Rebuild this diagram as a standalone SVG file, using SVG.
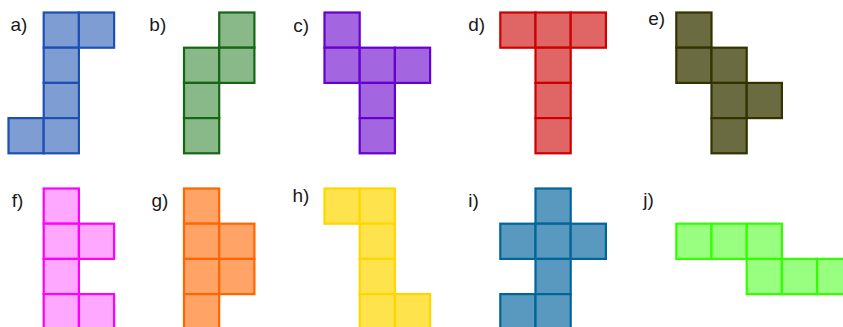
<svg xmlns="http://www.w3.org/2000/svg" xmlns:xlink="http://www.w3.org/1999/xlink" width="843" height="327" viewBox="0 0 843 327">
<style>
.lbl{font-family:"Liberation Sans",Arial,sans-serif;font-size:19px;fill:#1a1a1a}
use{stroke-width:2.2;stroke-linejoin:miter}
.a use{fill:#7e9ed3;stroke:#1f4fb3}
.b use{fill:#89b889;stroke:#176617}
.c use{fill:#a366e0;stroke:#6600cc}
.d use{fill:#e06666;stroke:#cc0000}
.e use{fill:#6b6b42;stroke:#333300}
.f use{fill:#ffa8ff;stroke:#ff00ff}
.g use{fill:#ffa366;stroke:#ff6600}
.h use{fill:#ffe34d;stroke:#ffd700}
.i use{fill:#5999bf;stroke:#006699}
.j use{fill:#99ff80;stroke:#33ff00}
</style>
<defs>
<rect id="cell" width="35.2" height="35.2"/>
</defs>
<g id="shape-a" class="a" transform="translate(8.5,12.5)">
<text class="lbl" x="2" y="18.5">a)</text>
<use xlink:href="#cell" x="35.2" y="0"/><use xlink:href="#cell" x="70.4" y="0"/>
<use xlink:href="#cell" x="35.2" y="35.2"/><use xlink:href="#cell" x="35.2" y="70.4"/>
<use xlink:href="#cell" x="0" y="105.6"/><use xlink:href="#cell" x="35.2" y="105.6"/>
</g>
<g id="shape-b" class="b" transform="translate(184,12.5)">
<text class="lbl" x="-34.7" y="18.5">b)</text>
<use xlink:href="#cell" x="35.2" y="0"/>
<use xlink:href="#cell" x="0" y="35.2"/><use xlink:href="#cell" x="35.2" y="35.2"/>
<use xlink:href="#cell" x="0" y="70.4"/><use xlink:href="#cell" x="0" y="105.6"/>
</g>
<g id="shape-c" class="c" transform="translate(324.5,12.5)">
<text class="lbl" x="-31.2" y="19">c)</text>
<use xlink:href="#cell" x="0" y="0"/>
<use xlink:href="#cell" x="0" y="35.2"/><use xlink:href="#cell" x="35.2" y="35.2"/><use xlink:href="#cell" x="70.4" y="35.2"/>
<use xlink:href="#cell" x="35.2" y="70.4"/><use xlink:href="#cell" x="35.2" y="105.6"/>
</g>
<g id="shape-d" class="d" transform="translate(500.3,12.5)">
<text class="lbl" x="-32" y="18.5">d)</text>
<use xlink:href="#cell" x="0" y="0"/><use xlink:href="#cell" x="35.2" y="0"/><use xlink:href="#cell" x="70.4" y="0"/>
<use xlink:href="#cell" x="35.2" y="35.2"/><use xlink:href="#cell" x="35.2" y="70.4"/><use xlink:href="#cell" x="35.2" y="105.6"/>
</g>
<g id="shape-e" class="e" transform="translate(676.3,12.5)">
<text class="lbl" x="-28" y="12.5">e)</text>
<use xlink:href="#cell" x="0" y="0"/>
<use xlink:href="#cell" x="0" y="35.2"/><use xlink:href="#cell" x="35.2" y="35.2"/>
<use xlink:href="#cell" x="35.2" y="70.4"/><use xlink:href="#cell" x="70.4" y="70.4"/>
<use xlink:href="#cell" x="35.2" y="105.6"/>
</g>
<g id="shape-f" class="f" transform="translate(43.7,188.5)">
<text class="lbl" x="-32" y="18.5">f)</text>
<use xlink:href="#cell" x="0" y="0"/>
<use xlink:href="#cell" x="0" y="35.2"/><use xlink:href="#cell" x="35.2" y="35.2"/>
<use xlink:href="#cell" x="0" y="70.4"/>
<use xlink:href="#cell" x="0" y="105.6"/><use xlink:href="#cell" x="35.2" y="105.6"/>
</g>
<g id="shape-g" class="g" transform="translate(184,188.5)">
<text class="lbl" x="-32.5" y="18.5">g)</text>
<use xlink:href="#cell" x="0" y="0"/>
<use xlink:href="#cell" x="0" y="35.2"/><use xlink:href="#cell" x="35.2" y="35.2"/>
<use xlink:href="#cell" x="0" y="70.4"/><use xlink:href="#cell" x="35.2" y="70.4"/>
<use xlink:href="#cell" x="0" y="105.6"/>
</g>
<g id="shape-h" class="h" transform="translate(324.5,188.5)">
<text class="lbl" x="-32" y="13.2">h)</text>
<use xlink:href="#cell" x="0" y="0"/><use xlink:href="#cell" x="35.2" y="0"/>
<use xlink:href="#cell" x="35.2" y="35.2"/><use xlink:href="#cell" x="35.2" y="70.4"/>
<use xlink:href="#cell" x="35.2" y="105.6"/><use xlink:href="#cell" x="70.4" y="105.6"/>
</g>
<g id="shape-i" class="i" transform="translate(500.3,188.5)">
<text class="lbl" x="-32" y="18.8">i)</text>
<use xlink:href="#cell" x="35.2" y="0"/>
<use xlink:href="#cell" x="0" y="35.2"/><use xlink:href="#cell" x="35.2" y="35.2"/><use xlink:href="#cell" x="70.4" y="35.2"/>
<use xlink:href="#cell" x="35.2" y="70.4"/>
<use xlink:href="#cell" x="0" y="105.6"/><use xlink:href="#cell" x="35.2" y="105.6"/>
</g>
<g id="shape-j" class="j" transform="translate(676.3,188.5)">
<text class="lbl" x="-33" y="17.5">j)</text>
<use xlink:href="#cell" x="0" y="35.2"/><use xlink:href="#cell" x="35.2" y="35.2"/><use xlink:href="#cell" x="70.4" y="35.2"/>
<use xlink:href="#cell" x="70.4" y="70.4"/><use xlink:href="#cell" x="105.6" y="70.4"/><use xlink:href="#cell" x="140.8" y="70.4"/>
</g>
</svg>
